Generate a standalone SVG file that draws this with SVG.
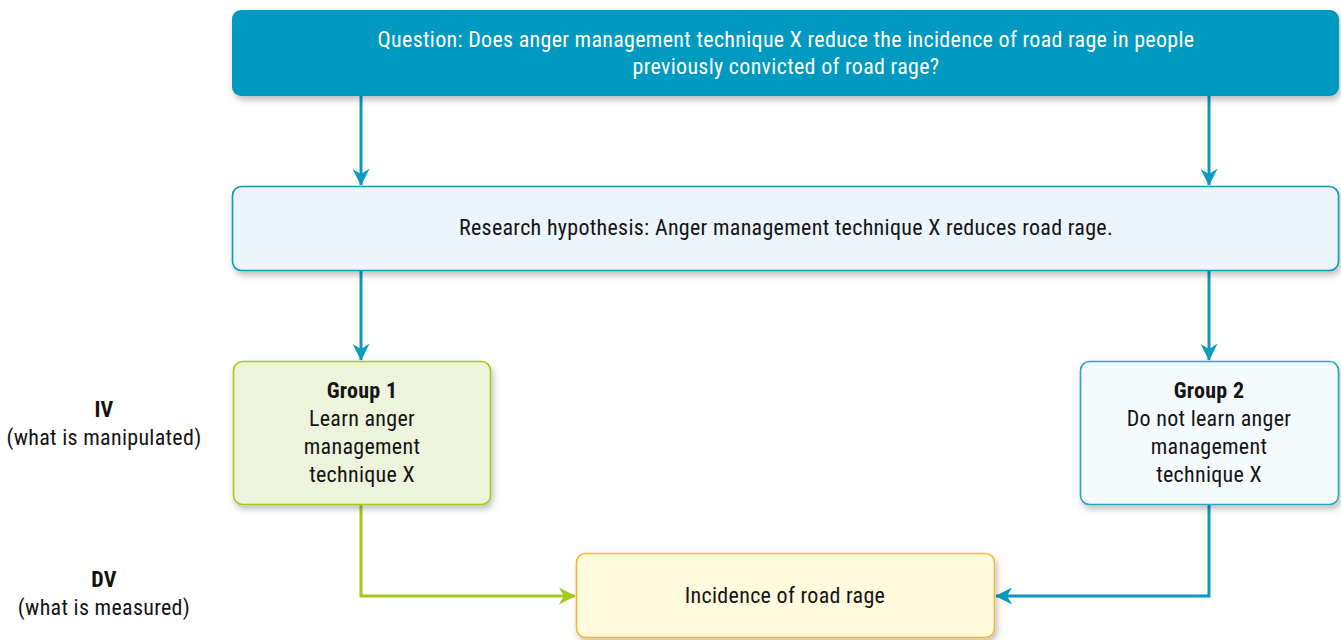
<svg xmlns="http://www.w3.org/2000/svg" width="1341" height="640" viewBox="0 0 1341 640">
  <defs>
    <filter id="shadow" x="-10%" y="-20%" width="120%" height="150%">
      <feDropShadow dx="2" dy="4" stdDeviation="3" flood-color="#000" flood-opacity="0.25"/>
    </filter>
    <marker id="arrowBlue" viewBox="0 0 10 10" refX="9.5" refY="5" markerWidth="19" markerHeight="17" markerUnits="userSpaceOnUse" orient="auto">
      <path d="M0,0 L10,5 L0,10 L3,5 Z" fill="#0a9ac0"/>
    </marker>
    <marker id="arrowGreen" viewBox="0 0 10 10" refX="9.5" refY="5" markerWidth="19" markerHeight="17" markerUnits="userSpaceOnUse" orient="auto">
      <path d="M0,0 L10,5 L0,10 L3,5 Z" fill="#a5c81e"/>
    </marker>
  </defs>
  <style>
    text { font-family: "Liberation Sans Narrow", "Roboto Condensed", "DejaVu Sans Condensed", sans-serif; font-size: 22px; letter-spacing: 0.3px; text-anchor: middle; fill: #141414; }
    .white { fill: #ffffff; }
    .bold { font-weight: bold; }
    .box { stroke-width: 1.6; filter: url(#shadow); }
    .conn { fill: none; stroke-width: 3; }
    .blue { stroke: #0a9ac0; }
    .green { stroke: #a5c81e; }
  </style>

  <rect width="1341" height="640" fill="#ffffff"/>

  <!-- connectors -->
  <g id="connectors">
    <path class="conn blue" d="M361,96 V185" marker-end="url(#arrowBlue)"/>
    <path class="conn blue" d="M1209,96 V185" marker-end="url(#arrowBlue)"/>
    <path class="conn blue" d="M361,271 V360" marker-end="url(#arrowBlue)"/>
    <path class="conn blue" d="M1209,271 V360" marker-end="url(#arrowBlue)"/>
    <path class="conn green" d="M361,505 V596 H575" marker-end="url(#arrowGreen)"/>
    <path class="conn blue" d="M1209,505 V596 H996" marker-end="url(#arrowBlue)"/>
  </g>

  <!-- question -->
  <g id="question">
    <rect class="box" x="232" y="10" width="1107" height="86" rx="9" fill="#0499bf"/>
    <text class="white" x="786" y="47">Question: Does anger management technique X reduce the incidence of road rage in people</text>
    <text class="white" x="786" y="74">previously convicted of road rage?</text>
  </g>

  <!-- hypothesis -->
  <g id="hypothesis">
    <rect class="box" x="232.5" y="186.5" width="1106" height="84" rx="9" fill="#ecf5fb" stroke="#0a9ac0"/>
    <text x="786" y="235">Research hypothesis: Anger management technique X reduces road rage.</text>
  </g>

  <!-- group 1 -->
  <g id="group1">
    <rect class="box" x="233.5" y="361.5" width="257" height="143" rx="9" fill="#eef3dc" stroke="#a5c81e"/>
    <text class="bold" x="362" y="398">Group 1</text>
    <text x="362" y="426">Learn anger</text>
    <text x="362" y="454">management</text>
    <text x="362" y="482">technique X</text>
  </g>

  <!-- group 2 -->
  <g id="group2">
    <rect class="box" x="1080.5" y="361.5" width="258" height="143" rx="9" fill="#f5fafd" stroke="#2aa6c6"/>
    <text class="bold" x="1209" y="398">Group 2</text>
    <text x="1209" y="426">Do not learn anger</text>
    <text x="1209" y="454">management</text>
    <text x="1209" y="482">technique X</text>
  </g>

  <!-- outcome -->
  <g id="outcome">
    <rect class="box" x="576.5" y="553.5" width="418" height="84" rx="9" fill="#fff9dd" stroke="#f6b737"/>
    <text x="785" y="603">Incidence of road rage</text>
  </g>

  <!-- variable labels -->
  <g id="iv-label">
    <text class="bold" x="104" y="417">IV</text>
    <text x="104" y="445">(what is manipulated)</text>
  </g>
  <g id="dv-label">
    <text class="bold" x="104" y="587">DV</text>
    <text x="104" y="615">(what is measured)</text>
  </g>
</svg>
